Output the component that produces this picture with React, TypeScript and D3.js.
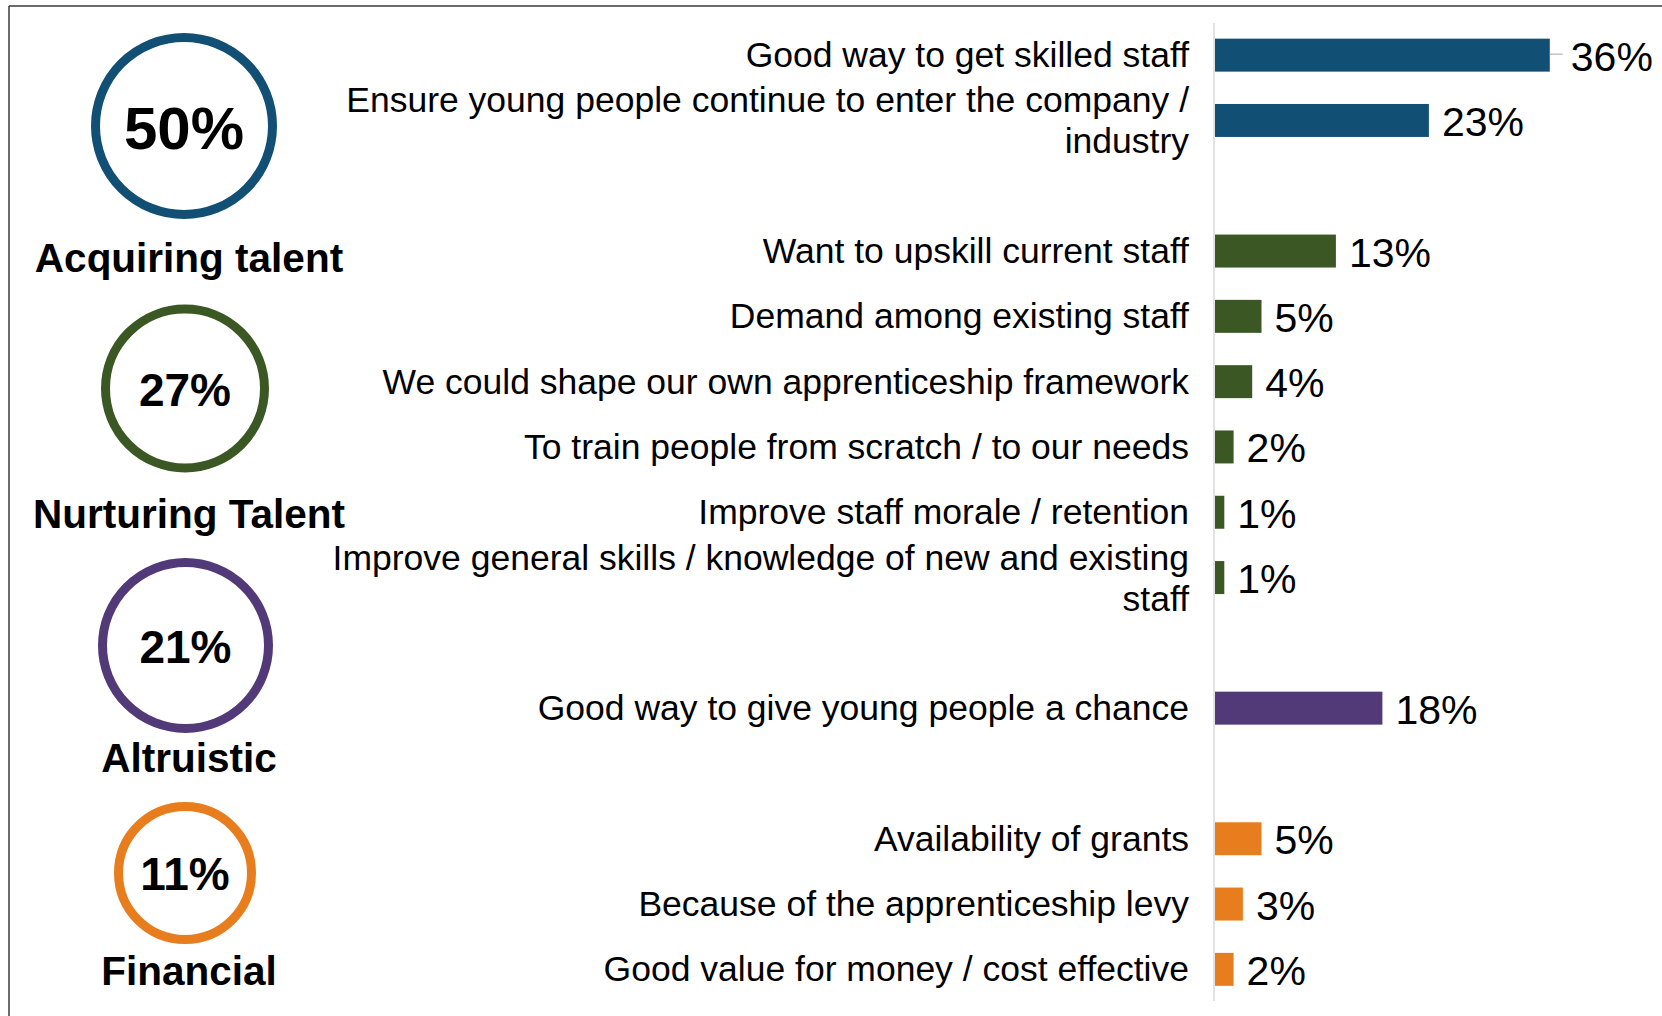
import React from "react";
import * as d3 from "d3";

// ---------- data ----------
const groupNames = ["Acquiring talent", "Nurturing Talent", "Altruistic", "Financial"];
const groupTotals = [50, 27, 21, 11];

const reasons = [
  "Good way to get skilled staff",
  "Ensure young people continue to enter the company / industry",
  "Want to upskill current staff",
  "Demand among existing staff",
  "We could shape our own apprenticeship framework",
  "To train people from scratch / to our needs",
  "Improve staff morale / retention",
  "Improve general skills / knowledge of new and existing staff",
  "Good way to give young people a chance",
  "Availability of grants",
  "Because of the apprenticeship levy",
  "Good value for money / cost effective",
];
const reasonValues = [36, 23, 13, 5, 4, 2, 1, 1, 18, 5, 3, 2];
const reasonGroup = [0, 0, 1, 1, 1, 1, 1, 1, 2, 3, 3, 3];

// ---------- styles / layout ----------
const W = 1662;
const H = 1016;
const groupColors = ["#124f75", "#3b5724", "#523a78", "#e87d1e"];
const FONT = "'Liberation Sans', Arial, Helvetica, sans-serif";
const LABEL_FS = 35.5;
const VALUE_FS = 41;
const TITLE_FS = 40.5;
const LINE_H = 41;
const LABEL_RIGHT = 1189;
const WRAP_WIDTH = 890;
const leaderRows = new Set([0]);

// decorative badge layout (center, radius, font sizes, title baseline)
const badgeLayout = [
  { cx: 184, cy: 126, r: 88.5, fs: 60, titleY: 272 },
  { cx: 185, cy: 388.5, r: 79.5, fs: 46, titleY: 528 },
  { cx: 185.5, cy: 645.5, r: 83, fs: 46, titleY: 772 },
  { cx: 185, cy: 873, r: 66.5, fs: 46, titleY: 985 },
];

function wrapText(text: string, fs: number, maxW: number): string[] {
  const canvas = document.createElement("canvas");
  const ctx = canvas.getContext("2d");
  if (!ctx) return [text];
  ctx.font = `${fs}px ${FONT}`;
  const words = text.split(" ");
  const lines: string[] = [];
  let cur = "";
  for (const w of words) {
    const test = cur ? cur + " " + w : w;
    if (ctx.measureText(test).width > maxW && cur) {
      lines.push(cur);
      cur = w;
    } else {
      cur = test;
    }
  }
  if (cur) lines.push(cur);
  return lines;
}

export default function App() {
  // build slots with a blank row between groups
  const slotKeys: string[] = [];
  const rowSlot: string[] = [];
  groupNames.forEach((_, g) => {
    reasons.forEach((r, i) => {
      if (reasonGroup[i] === g) {
        const key = "r" + i;
        slotKeys.push(key);
        rowSlot[i] = key;
      }
    });
    if (g < groupNames.length - 1) slotKeys.push("gap" + g);
  });

  const y = d3
    .scaleBand<string>()
    .domain(slotKeys)
    .range([22.5, 1002])
    .paddingInner(0.495)
    .paddingOuter(0.2475);

  const x = d3.scaleLinear().domain([0, 40]).range([1215, 1215 + 372]);

  return (
    <svg
      width={W}
      height={H}
      style={{ position: "absolute", left: 0, top: 0, background: "#fff" }}
      fontFamily={FONT}
    >
      <rect x={0} y={0} width={W} height={H} fill="#fff" />
      {/* frame */}
      <line x1={9} y1={6} x2={W} y2={6} stroke="#3a3a3a" strokeWidth={1.5} />
      <line x1={9} y1={6} x2={9} y2={H} stroke="#3a3a3a" strokeWidth={1.5} />

      {/* badges */}
      {groupNames.map((name, g) => {
        const b = badgeLayout[g];
        return (
          <g key={name}>
            <circle cx={b.cx} cy={b.cy} r={b.r} fill="none" stroke={groupColors[g]} strokeWidth={9} />
            <text
              x={b.cx}
              y={b.cy + b.fs * 0.38}
              textAnchor="middle"
              fontWeight="bold"
              fontSize={b.fs}
              fill="#000"
            >
              {groupTotals[g] + "%"}
            </text>
            <text x={189} y={b.titleY} textAnchor="middle" fontWeight="bold" fontSize={TITLE_FS} fill="#000">
              {name}
            </text>
          </g>
        );
      })}

      {/* axis line */}
      <line x1={1214} y1={23} x2={1214} y2={1001} stroke="#d9d9d9" strokeWidth={1.5} />

      {/* bars */}
      {reasons.map((r, i) => {
        const key = rowSlot[i];
        const y0 = y(key) as number;
        const bw = y.bandwidth();
        const cy = y0 + bw / 2;
        const xEnd = x(reasonValues[i]);
        const lines = wrapText(r, LABEL_FS, WRAP_WIDTH);
        const firstBase =
          lines.length === 1 ? cy + 12 : cy + 12 - ((lines.length - 1) * LINE_H) / 2 + 0.5;
        const isLeader = leaderRows.has(i);
        const labelX = xEnd + (isLeader ? 21 : 13);
        return (
          <g key={key}>
            <rect x={x(0)} y={y0} width={xEnd - x(0)} height={bw} fill={groupColors[reasonGroup[i]]} />
            <text textAnchor="end" fontSize={LABEL_FS} fill="#000">
              {lines.map((ln, k) => (
                <tspan key={k} x={LABEL_RIGHT} y={firstBase + k * LINE_H}>
                  {ln}
                </tspan>
              ))}
            </text>
            {isLeader && (
              <line x1={xEnd} y1={cy - 1} x2={xEnd + 13} y2={cy - 1} stroke="#a6a6a6" strokeWidth={1} />
            )}
            <text x={labelX} y={cy + 15.5} fontSize={VALUE_FS} fill="#000">
              {reasonValues[i] + "%"}
            </text>
          </g>
        );
      })}
    </svg>
  );
}
